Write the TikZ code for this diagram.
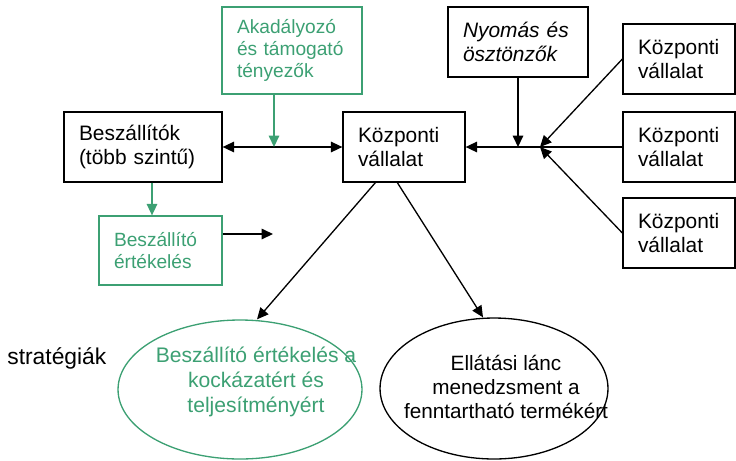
\documentclass[tikz,border=0pt]{standalone}
\usepackage{fontspec}
\setmainfont{Liberation Sans}
\usetikzlibrary{arrows.meta, positioning, shapes.geometric, calc}
\definecolor{sc_green}{RGB}{60, 160, 115}
\hyphenpenalty=10000
\begin{document}
\begin{tikzpicture}[x=0.02cm, y=-0.02cm,
    bbox/.style={rectangle, draw, line width=0.75pt, align=left,
                 inner xsep=0.3cm, inner ysep=0pt,
                 font=\fontsize{11.9}{13.3}\selectfont},
    gbox/.style={bbox, draw=sc_green, text=sc_green,
                 font=\fontsize{10.9}{12.5}\selectfont},
    oval/.style={ellipse, draw, line width=0.75pt, inner sep=0pt},
    arr/.style={-{Triangle[length=6.5pt, width=6pt]}, line width=0.75pt},
  ]
    \useasboundingbox (0,0) rectangle (736,460);

    % boxes
    \node[bbox, minimum width=3.16cm, minimum height=1.4cm, text width=2.56cm]
      (supp) at (143,147) {Beszállítók\\(több szintű)};
    \node[gbox, minimum width=2.8cm, minimum height=1.74cm, text width=2.2cm]
      (hind) at (292,50.5) {Akadályozó\\és támogató\\tényezők};
    \node[bbox, minimum width=2.44cm, minimum height=1.4cm, text width=1.84cm]
      (focal) at (404,147) {Központi\\vállalat};
    \node[bbox, minimum width=2.8cm, minimum height=1.4cm, text width=2.2cm,
          font=\fontsize{11.9}{13.3}\selectfont\itshape]
      (press) at (518,42) {Nyomás és\\ösztönzők};
    \node[bbox, minimum width=2.24cm, minimum height=1.4cm, text width=1.64cm]
      (comp1) at (679,59) {Központi\\vállalat};
    \node[bbox, minimum width=2.24cm, minimum height=1.4cm, text width=1.64cm]
      (comp2) at (679,147) {Központi\\vállalat};
    \node[bbox, minimum width=2.24cm, minimum height=1.4cm, text width=1.64cm]
      (comp3) at (679,233) {Központi\\vállalat};
    \node[gbox, minimum width=2.46cm, minimum height=1.38cm, text width=1.86cm]
      (eval) at (160.5,250.5) {Beszállító\\értékelés};

    % strategies
    \node[anchor=west, inner sep=0pt, font=\fontsize{13}{15}\selectfont]
      (strat) at (7,358) {stratégiák};
    \node[oval, draw=sc_green, minimum width=4.88cm, minimum height=2.78cm]
      (risk) at (240,389.5) {};
    \node[align=center, text=sc_green, font=\fontsize{12}{14.2}\selectfont]
      (riskText) at (256,382) {Beszállító értékelés a\\kockázatért és\\teljesítményért};
    \node[oval, minimum width=4.56cm, minimum height=2.82cm]
      (scm) at (494,388.5) {};
    \node[align=center, font=\fontsize{11.8}{13.4}\selectfont]
      (scmText) at (506,387) {Ellátási lánc\\menedzsment a\\fenntartható termékért};

    % connectors
    \coordinate (hub) at (540,147);
    \coordinate (hindJoin) at (274,147);
    \coordinate (suppX) at (152,0);
    \coordinate (evalEnd) at (273,234);

    \draw[arr, {Triangle[length=6.5pt, width=6pt]}-{Triangle[length=6.5pt, width=6pt]}]
      (supp.east) -- (focal.west);
    \draw[arr, sc_green] (hindJoin |- hind.south) -- (hindJoin);
    \draw[arr] (comp2.west) -- (focal.east);
    \draw[arr] (press.south) -- (press.south |- hub);
    \draw[arr] (comp1.west) -- (hub);
    \draw[arr] (comp3.west) -- (hub);
    \draw[arr, sc_green] (supp.south -| suppX) -- (eval.north -| suppX);
    \draw[arr] (eval.east |- evalEnd) -- (evalEnd);
    \draw[arr] ($(focal.south west)+(33,0)$) -- ($(risk.north)+(17,0)$);
    \draw[arr] ($(focal.south west)+(55,0)$) -- ($(scm.north)+(-11,0)$);
  \end{tikzpicture}
\end{document}
